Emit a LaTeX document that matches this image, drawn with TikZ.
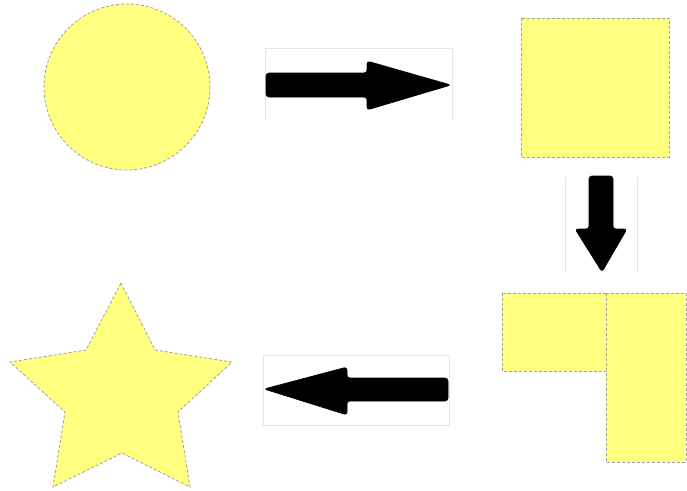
\documentclass[tikz,border=0pt]{standalone}
\usetikzlibrary{calc}
\definecolor{shapefill}{HTML}{FFFF80}
\definecolor{shapeline}{HTML}{A0A0A0}
\definecolor{framecol}{HTML}{E6E6E6}
\tikzset{
  yshape/.style={fill=shapefill, draw=shapeline, line width=0.8pt, dash pattern=on 3pt off 2pt},
  arrowbody/.style={fill=black, draw=black, line width=0.6pt, rounded corners=3pt},
  imgframe/.style={draw=framecol, line width=0.5pt}
}
\begin{document}
\begin{tikzpicture}[x=1pt,y=-1pt]
\useasboundingbox (0,0) rectangle (687,490);
% circle
\coordinate (circ) at (127,87);
\draw[yshape] (circ) circle[radius=83];
% square
\draw[yshape] (521,18) rectangle (669,157);
% L shape
\draw[yshape] (502,293) rectangle (606,371);
\draw[yshape] (606,293) rectangle (686,462);
% star
\draw[yshape] (121,283) -- (155,350) -- (232,362) -- (178,412) -- (190,487)
  -- (122,453) -- (53,487) -- (65,412) -- (10,362) -- (86,350) -- cycle;
% arrow right
\draw[imgframe] (265,120) -- (265,48) -- (452,48) -- (452,120);
\fill[arrowbody] (266,73) -- (367,73) -- (367,61) -- (451,85) -- (367,110) -- (367,97) -- (266,97) -- cycle;
% arrow down
\draw[imgframe] (565,272) -- (565,177);
\draw[imgframe] (637,177) -- (637,272);
\fill[arrowbody] (589,176) -- (613,176) -- (613,229) -- (627,229) -- (602,272) -- (575,229) -- (589,229) -- cycle;
% arrow left
\draw[imgframe] (263,355) rectangle (449,425);
\fill[arrowbody] (448,378) -- (347,378) -- (347,367) -- (264,389) -- (347,415) -- (347,401) -- (448,401) -- cycle;
\end{tikzpicture}
\end{document}
